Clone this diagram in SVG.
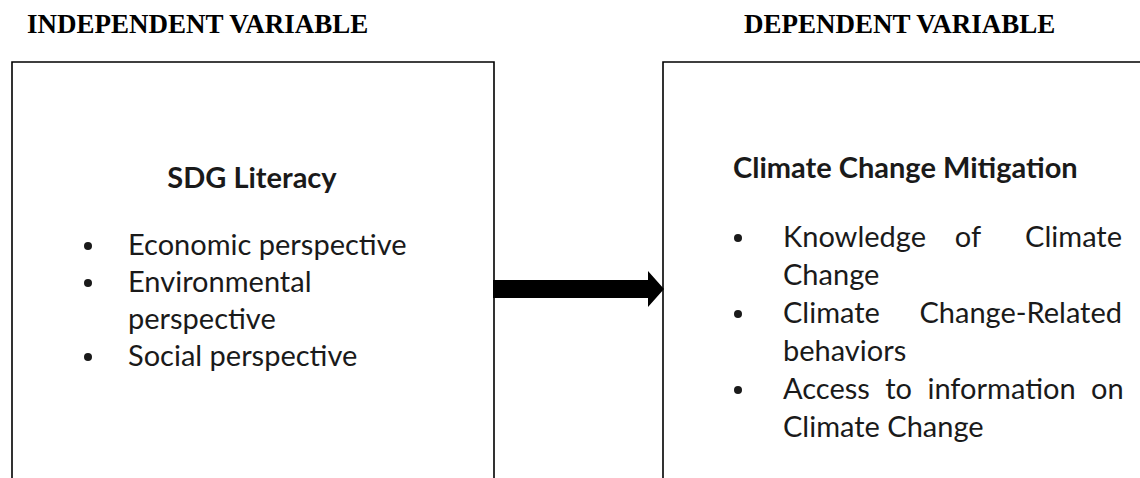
<svg xmlns="http://www.w3.org/2000/svg" width="1140" height="478" viewBox="0 0 1140 478">
<style>
.hd{font-family:"Liberation Serif","Times New Roman",serif;font-weight:bold;font-size:27px;fill:#000}
.t{font-family:Lato,"Noto Sans",sans-serif;font-size:29px;fill:#1a1a1a}
.b{font-family:Lato,"Noto Sans",sans-serif;font-size:29px;font-weight:bold;fill:#1a1a1a}
.dot{fill:#1a1a1a}
.box{fill:#fff;stroke:#000;stroke-width:1.6}
</style>
<rect width="1140" height="478" fill="#fff"/>
<text class="hd" x="27" y="33">INDEPENDENT VARIABLE</text>
<text class="hd" x="744" y="33">DEPENDENT VARIABLE</text>
<g id="node-sdg">
<path class="box" d="M12 480 V62 H494 V480"/>
<text class="b" x="252" y="188" text-anchor="middle">SDG Literacy</text>
<circle class="dot" cx="88" cy="246" r="4"/><text class="t" x="128" y="255">Economic perspective</text>
<circle class="dot" cx="88" cy="283" r="4"/><text class="t" x="128" y="292">Environmental</text>
<text class="t" x="128" y="329">perspective</text>
<circle class="dot" cx="88" cy="357" r="4"/><text class="t" x="128" y="366">Social perspective</text>
</g>
<g id="node-ccm">
<path class="box" d="M663 480 V62 H1142"/>
<text class="b" x="733" y="178">Climate Change Mitigation</text>
<circle class="dot" cx="738" cy="238" r="4"/><text class="t" x="783" y="247">Knowledge</text><text class="t" x="968" y="247" text-anchor="middle">of</text><text class="t" x="1122" y="247" text-anchor="end">Climate</text>
<text class="t" x="783" y="285">Change</text>
<circle class="dot" cx="738" cy="314" r="4"/><text class="t" x="783" y="323">Climate</text><text class="t" x="1122" y="323" text-anchor="end">Change-Related</text>
<text class="t" x="783" y="361">behaviors</text>
<circle class="dot" cx="738" cy="390" r="4"/><text class="t" x="783" y="399" word-spacing="8">Access to information on</text>
<text class="t" x="783" y="437">Climate Change</text>
</g>
<g id="connectors">
<polygon points="493,280 648,280 648,271 664,289 648,307 648,298 493,298" fill="#000"/>
</g>
</svg>
